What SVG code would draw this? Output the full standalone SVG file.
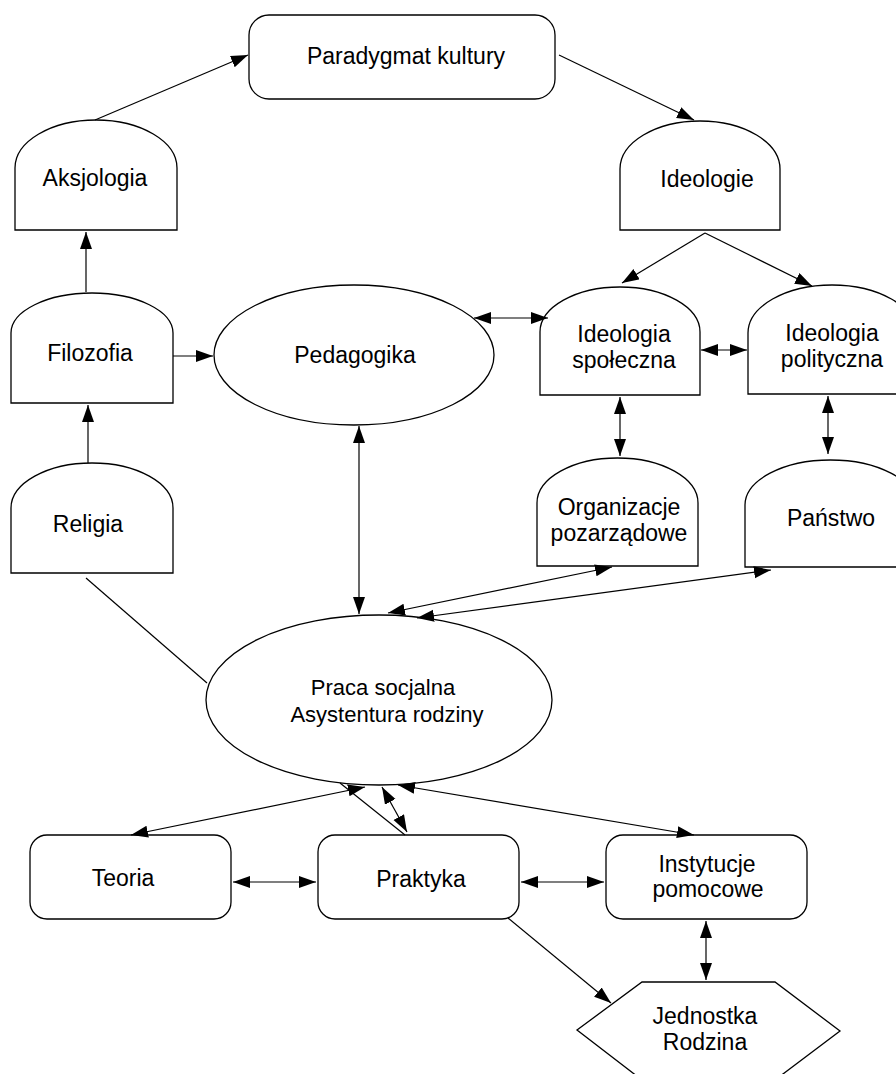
<svg xmlns="http://www.w3.org/2000/svg" width="896" height="1074" viewBox="0 0 896 1074">
<defs>
<marker id="ah" markerUnits="userSpaceOnUse" markerWidth="18" markerHeight="14" refX="17" refY="6" orient="auto-start-reverse" viewBox="0 0 18 14">
<path d="M0,0 L17,6 L0,12 z" fill="#000"/>
</marker>
</defs>
<style>
.n{fill:#fff;stroke:#000;stroke-width:1.3}
.t{font-family:"Liberation Sans",Arial,sans-serif;font-size:23px;fill:#000;text-anchor:middle}
.s{font-size:22px}
.c line,.c path{stroke:#000;stroke-width:1.2;fill:none}
.a{marker-end:url(#ah)}
.b{marker-start:url(#ah);marker-end:url(#ah)}
</style>
<rect width="896" height="1074" fill="#fff"/>
<g id="paradygmat"><rect class="n" x="249" y="15" width="306" height="84" rx="20"/><text class="t" x="406" y="64">Paradygmat kultury</text></g>
<g id="aksjologia"><path class="n" d="M15,230 V168 A81,48 0 0 1 177,168 V230 Z"/><text class="t" x="95" y="186">Aksjologia</text></g>
<g id="ideologie"><path class="n" d="M620,230 V169 A80,48 0 0 1 780,169 V230 Z"/><text class="t" x="707" y="187">Ideologie</text></g>
<g id="filozofia"><path class="n" d="M11,403 V333 A81,40 0 0 1 173,333 V403 Z"/><text class="t" x="90" y="361">Filozofia</text></g>
<g id="religia"><path class="n" d="M11,573 V508 A81,45 0 0 1 173,508 V573 Z"/><text class="t" x="88" y="532">Religia</text></g>
<g id="pedagogika"><ellipse class="n" cx="354" cy="355" rx="140" ry="70"/><text class="t" x="355" y="363">Pedagogika</text></g>
<g id="ideologia-spoleczna"><path class="n" d="M540,395 V332 A80,45 0 0 1 700,332 V395 Z"/><text class="t" x="624" y="342">Ideologia</text><text class="t" x="624" y="368">społeczna</text></g>
<g id="ideologia-polityczna"><path class="n" d="M748,394 V333 A84,48 0 0 1 916,333 V394 Z"/><text class="t" x="832" y="341">Ideologia</text><text class="t" x="832" y="367">polityczna</text></g>
<g id="organizacje"><path class="n" d="M537,566 V503 A80.5,45 0 0 1 698,503 V566 Z"/><text class="t" x="619" y="515">Organizacje</text><text class="t" x="619" y="541">pozarządowe</text></g>
<g id="panstwo"><path class="n" d="M745,567 V505 A85.5,45 0 0 1 916,505 V567 Z"/><text class="t" x="831" y="526">Państwo</text></g>
<g id="praca"><ellipse class="n" cx="379" cy="700" rx="173" ry="85"/><text class="t s" x="383" y="695">Praca socjalna</text><text class="t s" x="387" y="722">Asystentura rodziny</text></g>
<g id="teoria"><rect class="n" x="30" y="835" width="201" height="84" rx="17"/><text class="t" x="123" y="886">Teoria</text></g>
<g id="praktyka"><rect class="n" x="318" y="835" width="201" height="84" rx="17"/><text class="t" x="421" y="887">Praktyka</text></g>
<g id="instytucje"><rect class="n" x="606" y="835" width="201" height="84" rx="17"/><text class="t" x="707" y="872">Instytucje</text><text class="t" x="708" y="897">pomocowe</text></g>
<g id="jednostka"><path class="n" d="M642,982 H775 L840,1031 L775,1080 H642 L577,1030 Z"/><text class="t" x="705" y="1024">Jednostka</text><text class="t" x="705" y="1050">Rodzina</text></g>
<g id="connectors" class="c">
<line class="a" x1="95" y1="120" x2="248" y2="55"/>
<line class="a" x1="559" y1="55" x2="694" y2="120"/>
<line class="a" x1="705" y1="233" x2="622" y2="283"/>
<line class="a" x1="705" y1="233" x2="812" y2="286"/>
<line class="a" x1="86" y1="292" x2="86" y2="232"/>
<line class="a" x1="88" y1="463" x2="88" y2="405"/>
<line class="a" x1="173" y1="356" x2="213" y2="356"/>
<line class="b" x1="474" y1="318" x2="548" y2="318"/>
<line class="b" x1="701" y1="350" x2="747" y2="350"/>
<line class="b" x1="620" y1="397" x2="620" y2="456"/>
<line class="b" x1="828" y1="396" x2="828" y2="454"/>
<line class="b" x1="359" y1="426" x2="359" y2="614"/>
<line class="b" x1="612" y1="567" x2="388" y2="613"/>
<line class="b" x1="771" y1="570" x2="417" y2="618"/>
<line x1="86" y1="578" x2="207" y2="683"/>
<line class="b" x1="365" y1="787" x2="131" y2="835"/>
<line x1="405" y1="835" x2="340" y2="783"/>
<line class="b" x1="382" y1="787" x2="407" y2="832"/>
<line class="b" x1="398" y1="785" x2="694" y2="835"/>
<line class="b" x1="233" y1="882" x2="316" y2="882"/>
<line class="b" x1="521" y1="882" x2="604" y2="882"/>
<line class="b" x1="706" y1="921" x2="706" y2="980"/>
<line class="a" x1="508" y1="918" x2="611" y2="1003"/>
</g>
</svg>
